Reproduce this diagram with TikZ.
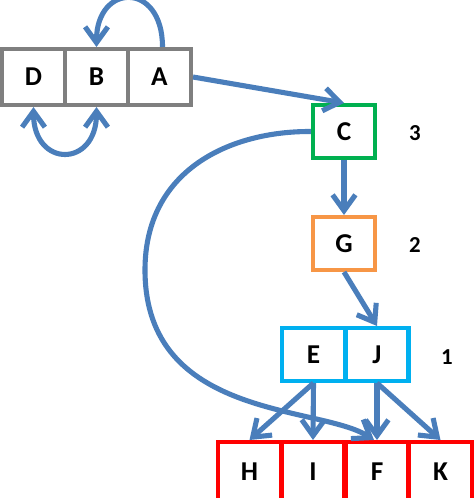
\documentclass[tikz,border=0pt]{standalone}
\usepackage{fontspec}
\setmainfont{Carlito}
\usepackage{tikz}
\usetikzlibrary{arrows.meta}
\definecolor{flowblue}{RGB}{74,126,187}
\definecolor{boxgray}{RGB}{127,127,127}
\definecolor{boxgreen}{RGB}{0,176,80}
\definecolor{boxorange}{RGB}{247,150,70}
\definecolor{boxcyan}{RGB}{0,176,240}
\definecolor{boxred}{RGB}{255,0,0}

\begin{document}
\begin{tikzpicture}[x=0.02cm,y=-0.02cm,
        cell/.style={draw,line width=2.3pt,fill=white,minimum width=1.26cm,minimum height=1.06cm,inner sep=0pt,font=\fontsize{15.5}{18}\selectfont\bfseries},
        barb/.tip={Straight Barb[length=9pt,width=13pt]},
        flow/.style={flowblue,line width=2.9pt,-barb},
        level/.style={font=\fontsize{13}{16}\selectfont\bfseries}]
            \useasboundingbox (0,0) rectangle (474,498);
            \clip (0,0) rectangle (474,498);
            \node[cell,draw=boxgray,minimum height=1.12cm] (D) at (33.5,77){D};
            \node[cell,draw=boxgray,minimum height=1.12cm] (B) at (96.5,77){B};
            \node[cell,draw=boxgray,minimum height=1.12cm] (A) at (159.5,77){A};
            \node[cell,draw=boxgreen,minimum width=1.24cm] (C) at (344,131.5){C};
            \node[cell,draw=boxorange,minimum width=1.24cm] (G) at (344,243.5){G};
            \node[cell,draw=boxcyan] (E) at (313.5,354.5){E};
            \node[cell,draw=boxcyan] (J) at (377,354.5){J};
            \node[cell,draw=boxred,minimum height=1.2cm] (H) at (249.5,472){H};
            \node[cell,draw=boxred,minimum height=1.2cm] (I) at (313,472){I};
            \node[cell,draw=boxred,minimum height=1.2cm] (F) at (377,472){F};
            \node[cell,draw=boxred,minimum height=1.2cm] (K) at (440.5,472){K};
            \node[level] (lvlC) at (415,133){3};
            \node[level] (lvlG) at (415,245){2};
            \node[level] (lvlE) at (447,357){1};
            \coordinate (bend) at (145,270);
            \draw[flow] ([xshift=0.06cm]A.north) .. controls +(0,-66) and +(0,-64) .. (B.north);
            \draw[flow,barb-barb] (D.south) .. controls +(0,61) and +(0,61) .. (B.south);
            \draw[flow] (A.east) -- (C.north);
            \draw[flow] (C.south) -- (G.north);
            \draw[flow] (G.south) -- (J.north);
            \draw[flow] (E.south) -- (H.north);
            \draw[flow] (E.south) -- (I.north);
            \draw[flow] (J.south) -- (F.north);
            \draw[flow] (J.south) -- (K.north);
            \draw[flow] (C.west) .. controls (230,131) and (145,170) .. (bend) .. controls (145,420) and (320,405) .. ([xshift=-0.06cm]F.north);
        \end{tikzpicture}
\end{document}
